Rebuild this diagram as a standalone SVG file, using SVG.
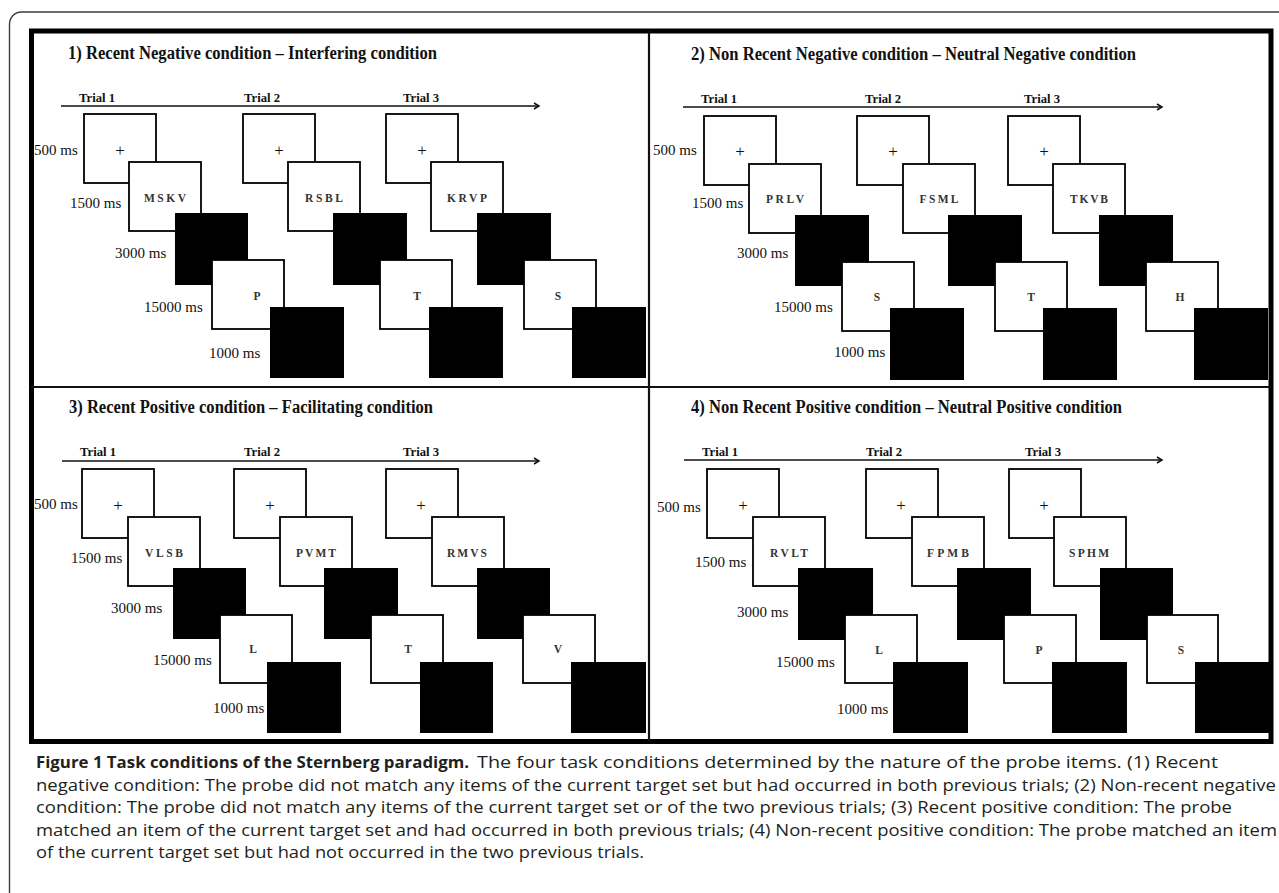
<svg xmlns="http://www.w3.org/2000/svg" width="1279" height="893" viewBox="0 0 1279 893">
<style>
.outer{fill:none;stroke:#3a3a3a;stroke-width:1.4}
.frame{fill:none;stroke:#000;stroke-width:5}
.div{stroke:#111;stroke-width:2.2}
.wb{fill:#fff;stroke:#000;stroke-width:1.8}
.bb{fill:#000}
.title{font-family:"Liberation Serif",serif;font-weight:bold;font-size:18px;fill:#111}
.trial{font-family:"Liberation Serif",serif;font-weight:bold;font-size:13.5px;fill:#111}
.ms{font-family:"Liberation Serif",serif;font-size:15px;fill:#111}
.plus{font-family:"Liberation Serif",serif;font-size:17px;fill:#111;text-anchor:middle}
.set{font-family:"Liberation Serif",serif;font-size:11.5px;font-weight:bold;fill:#333;text-anchor:middle}
.probe{font-family:"Liberation Serif",serif;font-size:11.5px;font-weight:bold;fill:#333;text-anchor:middle}
.axis{stroke:#111;stroke-width:1.5;fill:none}
.cap{font-family:"Open Sans",sans-serif;font-size:16.5px;fill:#231f20}
.capb{font-family:"Open Sans",sans-serif;font-size:16.5px;font-weight:bold;fill:#231f20}
</style>
<defs>
<marker id="chev" markerUnits="userSpaceOnUse" markerWidth="10" markerHeight="10" refX="6" refY="4" orient="auto">
<path d="M1,1 L6,4 L1,7" fill="none" stroke="#111" stroke-width="1.5"/>
</marker>
</defs>
<rect width="1279" height="893" fill="#fff"/>
<rect class="outer" x="9.5" y="12" width="1300" height="900" rx="12"/>
<g id="frame">
<rect class="frame" x="31.5" y="31" width="1239.5" height="710.5"/>
<line class="div" x1="649" y1="31" x2="649" y2="741"/>
<line class="div" x1="31" y1="387" x2="1271" y2="387"/>
</g>
<g id="connectors">
<line class="axis" x1="61" y1="106" x2="539" y2="106" marker-end="url(#chev)"/>
<line class="axis" x1="683" y1="107" x2="1162" y2="107" marker-end="url(#chev)"/>
<line class="axis" x1="62" y1="461" x2="539" y2="461" marker-end="url(#chev)"/>
<line class="axis" x1="684" y1="460" x2="1162" y2="460" marker-end="url(#chev)"/>
</g>
<g id="q1">
<text class="title" x="68" y="59" textLength="369" lengthAdjust="spacingAndGlyphs">1) Recent Negative condition – Interfering condition</text>
<text class="trial" x="79" y="102" textLength="36" lengthAdjust="spacingAndGlyphs">Trial 1</text>
<text class="trial" x="244" y="102" textLength="36" lengthAdjust="spacingAndGlyphs">Trial 2</text>
<text class="trial" x="403" y="102" textLength="36" lengthAdjust="spacingAndGlyphs">Trial 3</text>
<text class="ms" x="34" y="155">500 ms</text>
<text class="ms" x="70" y="208">1500 ms</text>
<text class="ms" x="115" y="258">3000 ms</text>
<text class="ms" x="144" y="312">15000 ms</text>
<text class="ms" x="209" y="358">1000 ms</text>
<g id="q1t1">
<rect class="wb" x="84" y="114" width="72" height="69"/><text class="plus" x="120" y="156">+</text>
<rect class="wb" x="129" y="162" width="72" height="69"/><text class="set" x="165" y="202" textLength="42" lengthAdjust="spacing">MSKV</text>
<rect class="bb" x="175" y="213" width="73" height="72"/>
<rect class="wb" x="212" y="260" width="72" height="69"/><text class="probe" x="257" y="300">P</text>
<rect class="bb" x="270" y="307" width="74" height="71"/>
</g>
<g id="q1t2">
<rect class="wb" x="243" y="114" width="72" height="69"/><text class="plus" x="279" y="156">+</text>
<rect class="wb" x="288" y="162" width="72" height="69"/><text class="set" x="324" y="202" textLength="38" lengthAdjust="spacing">RSBL</text>
<rect class="bb" x="333" y="213" width="74" height="72"/>
<rect class="wb" x="380" y="260" width="72" height="69"/><text class="probe" x="417" y="300">T</text>
<rect class="bb" x="429" y="307" width="74" height="71"/>
</g>
<g id="q1t3">
<rect class="wb" x="386" y="114" width="72" height="69"/><text class="plus" x="422" y="156">+</text>
<rect class="wb" x="431" y="162" width="72" height="69"/><text class="set" x="467" y="202" textLength="40" lengthAdjust="spacing">KRVP</text>
<rect class="bb" x="477" y="213" width="74" height="72"/>
<rect class="wb" x="524" y="260" width="72" height="69"/><text class="probe" x="558" y="300">S</text>
<rect class="bb" x="572" y="307" width="74" height="71"/>
</g>
</g>
<g id="q2">
<text class="title" x="691" y="60" textLength="445" lengthAdjust="spacingAndGlyphs">2) Non Recent Negative condition – Neutral Negative condition</text>
<text class="trial" x="701" y="103" textLength="36" lengthAdjust="spacingAndGlyphs">Trial 1</text>
<text class="trial" x="865" y="103" textLength="36" lengthAdjust="spacingAndGlyphs">Trial 2</text>
<text class="trial" x="1024" y="103" textLength="36" lengthAdjust="spacingAndGlyphs">Trial 3</text>
<text class="ms" x="653" y="155">500 ms</text>
<text class="ms" x="692" y="208">1500 ms</text>
<text class="ms" x="737" y="258">3000 ms</text>
<text class="ms" x="774" y="312">15000 ms</text>
<text class="ms" x="834" y="357">1000 ms</text>
<g id="q2t1">
<rect class="wb" x="704" y="116" width="72" height="69"/><text class="plus" x="740" y="157">+</text>
<rect class="wb" x="749" y="164" width="72" height="69"/><text class="set" x="785" y="203" textLength="38" lengthAdjust="spacing">PRLV</text>
<rect class="bb" x="795" y="215" width="74" height="71"/>
<rect class="wb" x="842" y="262" width="72" height="69"/><text class="probe" x="877" y="301">S</text>
<rect class="bb" x="890" y="308" width="74" height="72"/>
</g>
<g id="q2t2">
<rect class="wb" x="857" y="116" width="72" height="69"/><text class="plus" x="893" y="157">+</text>
<rect class="wb" x="903" y="164" width="72" height="69"/><text class="set" x="939" y="203" textLength="39" lengthAdjust="spacing">FSML</text>
<rect class="bb" x="948" y="215" width="74" height="71"/>
<rect class="wb" x="995" y="262" width="72" height="69"/><text class="probe" x="1031" y="301">T</text>
<rect class="bb" x="1043" y="308" width="74" height="72"/>
</g>
<g id="q2t3">
<rect class="wb" x="1008" y="116" width="72" height="69"/><text class="plus" x="1044" y="157">+</text>
<rect class="wb" x="1053" y="164" width="72" height="69"/><text class="set" x="1089" y="203" textLength="38" lengthAdjust="spacing">TKVB</text>
<rect class="bb" x="1099" y="215" width="74" height="71"/>
<rect class="wb" x="1146" y="262" width="72" height="69"/><text class="probe" x="1180" y="301">H</text>
<rect class="bb" x="1194" y="308" width="74" height="72"/>
</g>
</g>
<g id="q3">
<text class="title" x="69" y="413" textLength="364" lengthAdjust="spacingAndGlyphs">3) Recent Positive condition – Facilitating condition</text>
<text class="trial" x="80" y="456" textLength="36" lengthAdjust="spacingAndGlyphs">Trial 1</text>
<text class="trial" x="244" y="456" textLength="36" lengthAdjust="spacingAndGlyphs">Trial 2</text>
<text class="trial" x="403" y="456" textLength="36" lengthAdjust="spacingAndGlyphs">Trial 3</text>
<text class="ms" x="34" y="509">500 ms</text>
<text class="ms" x="71" y="563">1500 ms</text>
<text class="ms" x="111" y="613">3000 ms</text>
<text class="ms" x="153" y="665">15000 ms</text>
<text class="ms" x="213" y="713">1000 ms</text>
<g id="q3t1">
<rect class="wb" x="82" y="469" width="72" height="69"/><text class="plus" x="118" y="511">+</text>
<rect class="wb" x="128" y="517" width="72" height="69"/><text class="set" x="164" y="557" textLength="38" lengthAdjust="spacing">VLSB</text>
<rect class="bb" x="173" y="568" width="73" height="71"/>
<rect class="wb" x="220" y="615" width="72" height="68"/><text class="probe" x="253" y="653">L</text>
<rect class="bb" x="267" y="662" width="74" height="71"/>
</g>
<g id="q3t2">
<rect class="wb" x="234" y="469" width="72" height="69"/><text class="plus" x="270" y="511">+</text>
<rect class="wb" x="280" y="517" width="72" height="69"/><text class="set" x="316" y="557" textLength="40" lengthAdjust="spacing">PVMT</text>
<rect class="bb" x="324" y="568" width="74" height="71"/>
<rect class="wb" x="371" y="615" width="72" height="68"/><text class="probe" x="408" y="653">T</text>
<rect class="bb" x="420" y="662" width="73" height="71"/>
</g>
<g id="q3t3">
<rect class="wb" x="386" y="469" width="72" height="69"/><text class="plus" x="421" y="511">+</text>
<rect class="wb" x="432" y="517" width="72" height="69"/><text class="set" x="467" y="557" textLength="40" lengthAdjust="spacing">RMVS</text>
<rect class="bb" x="477" y="568" width="73" height="71"/>
<rect class="wb" x="523" y="615" width="72" height="68"/><text class="probe" x="558" y="653">V</text>
<rect class="bb" x="571" y="662" width="75" height="71"/>
</g>
</g>
<g id="q4">
<text class="title" x="691" y="413" textLength="431" lengthAdjust="spacingAndGlyphs">4) Non Recent Positive condition – Neutral Positive condition</text>
<text class="trial" x="702" y="456" textLength="36" lengthAdjust="spacingAndGlyphs">Trial 1</text>
<text class="trial" x="866" y="456" textLength="36" lengthAdjust="spacingAndGlyphs">Trial 2</text>
<text class="trial" x="1025" y="456" textLength="36" lengthAdjust="spacingAndGlyphs">Trial 3</text>
<text class="ms" x="657" y="512">500 ms</text>
<text class="ms" x="695" y="567">1500 ms</text>
<text class="ms" x="737" y="617">3000 ms</text>
<text class="ms" x="776" y="667">15000 ms</text>
<text class="ms" x="837" y="714">1000 ms</text>
<g id="q4t1">
<rect class="wb" x="707" y="469" width="72" height="69"/><text class="plus" x="743" y="511">+</text>
<rect class="wb" x="753" y="517" width="72" height="69"/><text class="set" x="789" y="557" textLength="38" lengthAdjust="spacing">RVLT</text>
<rect class="bb" x="798" y="568" width="75" height="72"/>
<rect class="wb" x="845" y="615" width="72" height="68"/><text class="probe" x="879" y="654">L</text>
<rect class="bb" x="893" y="662" width="75" height="71"/>
</g>
<g id="q4t2">
<rect class="wb" x="866" y="469" width="72" height="69"/><text class="plus" x="901" y="511">+</text>
<rect class="wb" x="912" y="517" width="72" height="69"/><text class="set" x="948" y="557" textLength="42" lengthAdjust="spacing">FPMB</text>
<rect class="bb" x="957" y="568" width="74" height="72"/>
<rect class="wb" x="1004" y="615" width="72" height="68"/><text class="probe" x="1039" y="654">P</text>
<rect class="bb" x="1052" y="662" width="75" height="71"/>
</g>
<g id="q4t3">
<rect class="wb" x="1009" y="469" width="72" height="69"/><text class="plus" x="1044" y="511">+</text>
<rect class="wb" x="1054" y="517" width="72" height="69"/><text class="set" x="1089" y="557" textLength="40" lengthAdjust="spacing">SPHM</text>
<rect class="bb" x="1100" y="568" width="73" height="72"/>
<rect class="wb" x="1147" y="615" width="71" height="68"/><text class="probe" x="1181" y="654">S</text>
<rect class="bb" x="1195" y="662" width="74" height="71"/>
</g>
</g>
<g id="caption">
<text class="capb" x="36" y="768" textLength="433" lengthAdjust="spacingAndGlyphs">Figure 1 Task conditions of the Sternberg paradigm.</text>
<text class="cap" x="477" y="768" textLength="741" lengthAdjust="spacingAndGlyphs">The four task conditions determined by the nature of the probe items. (1) Recent</text>
<text class="cap" x="36" y="791" textLength="1240" lengthAdjust="spacingAndGlyphs">negative condition: The probe did not match any items of the current target set but had occurred in both previous trials; (2) Non-recent negative</text>
<text class="cap" x="36" y="813" textLength="1196" lengthAdjust="spacingAndGlyphs">condition: The probe did not match any items of the current target set or of the two previous trials; (3) Recent positive condition: The probe</text>
<text class="cap" x="36" y="836" textLength="1241" lengthAdjust="spacingAndGlyphs">matched an item of the current target set and had occurred in both previous trials; (4) Non-recent positive condition: The probe matched an item</text>
<text class="cap" x="36" y="858" textLength="608" lengthAdjust="spacingAndGlyphs">of the current target set but had not occurred in the two previous trials.</text>
</g>
</svg>
